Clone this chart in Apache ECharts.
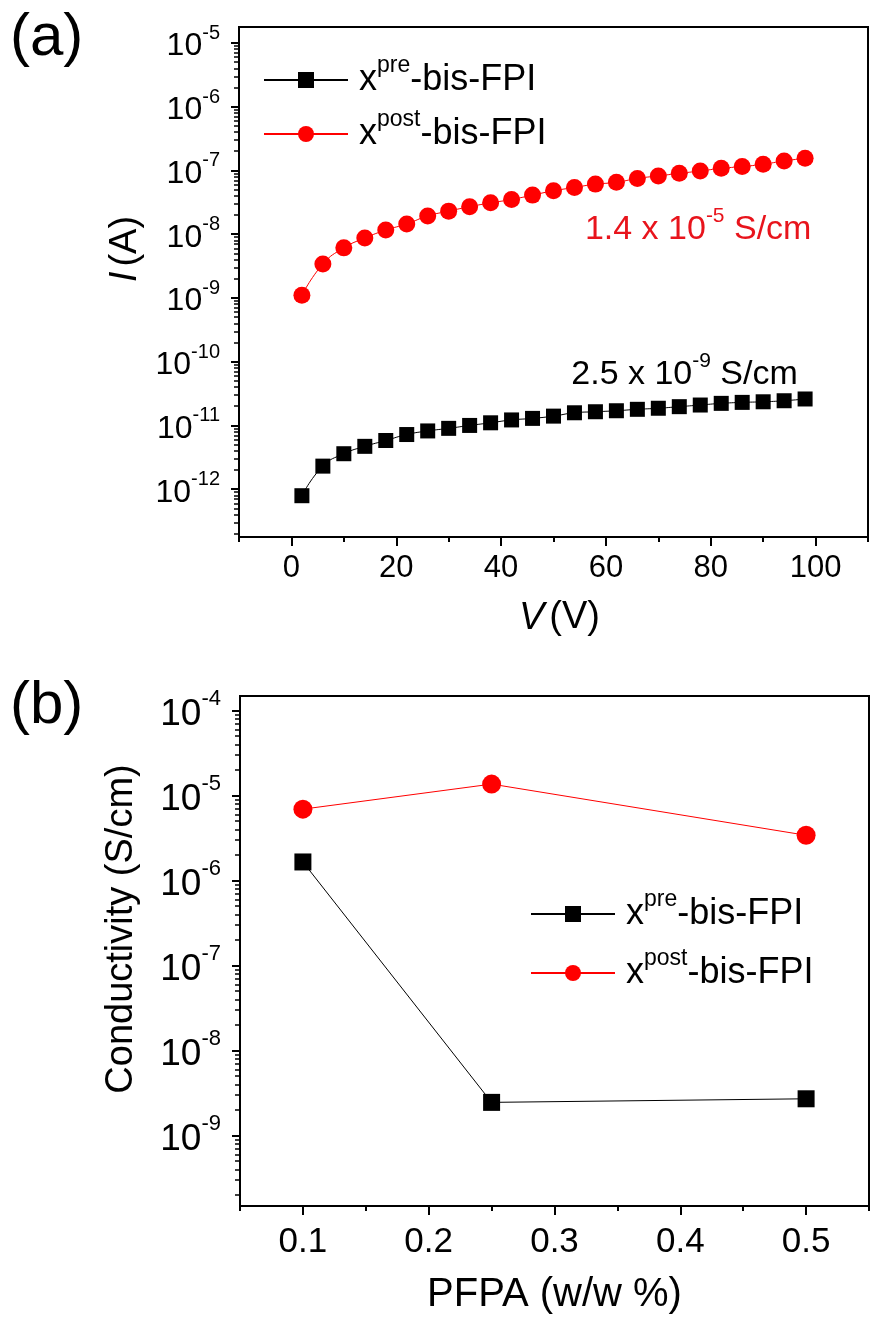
<!DOCTYPE html>
<html><head><meta charset="utf-8">
<script src="https://cdn.jsdelivr.net/npm/echarts@6/dist/echarts.min.js"></script>
<style>html,body{margin:0;padding:0;background:#fff}#c{width:871px;height:1319px}</style>
</head><body><div id="c"></div>
<script>
// ---------- data ----------
const seriesNames = ['xpre-bis-FPI', 'xpost-bis-FPI'];
const voltage = [2,6,10,14,18,22,26,30,34,38,42,46,50,54,58,62,66,70,74,78,82,86,90,94,98];
const currentPre = [7.9e-13,2.3e-12,3.6e-12,4.7e-12,5.8e-12,7.2e-12,8.2e-12,9.0e-12,1.0e-11,1.1e-11,1.22e-11,1.29e-11,1.4e-11,1.58e-11,1.64e-11,1.7e-11,1.79e-11,1.86e-11,1.97e-11,2.09e-11,2.22e-11,2.3e-11,2.35e-11,2.44e-11,2.6e-11];
const currentPost = [1.1e-9,3.4e-9,6.1e-9,8.7e-9,1.16e-8,1.45e-8,1.93e-8,2.3e-8,2.7e-8,3.1e-8,3.5e-8,4.1e-8,4.8e-8,5.4e-8,6.1e-8,6.5e-8,7.5e-8,8.2e-8,9.0e-8,9.8e-8,1.08e-7,1.15e-7,1.25e-7,1.41e-7,1.55e-7];
const pfpa = [0.1, 0.25, 0.5];
const condPre = [1.65e-6, 2.45e-9, 2.7e-9];
const condPost = [6.9e-6, 1.36e-5, 3.4e-6];
const voltTickLabels = [0, 20, 40, 60, 80, 100];
const pfpaTickLabels = [0.1, 0.2, 0.3, 0.4, 0.5];
const decadesA = [-12, -11, -10, -9, -8, -7, -6, -5];
const decadesB = [-9, -8, -7, -6, -5, -4];
const noteTexts = ['1.4 x 10|-5| S/cm', '2.5 x 10|-9| S/cm'];
const notePositions = [[77.6, 1.35e-8], [75, 7.1e-11]];

// ---------- layout/style ----------
const FONT = '"Liberation Sans", Arial, sans-serif';
const RED = '#ff0000';
const logA = [-12.75, -4.75];
const logB = [-9.83, -3.83];
const gridA = {left: 239, top: 27, width: 629, height: 510};
const gridB = {left: 240, top: 696, width: 629, height: 510};

function minorLogs(ext) {
  const out = [];
  for (let n = Math.floor(ext[0]); n <= Math.ceil(ext[1]); n++) {
    for (let k = 2; k <= 9; k++) {
      const v = n + Math.log10(k);
      if (v >= ext[0] && v <= ext[1]) out.push(v);
    }
  }
  return out;
}
function supRich(big, small, pad) {
  return {
    b: {fontSize: big, fontFamily: FONT, color: '#000', padding: [pad, 0, 0, 0]},
    s: {fontSize: small, fontFamily: FONT, color: '#000', verticalAlign: 'top'}
  };
}
function logAxis(gridIndex, ext, decades, big, small, pad, margin, name, nameRich, nameGap, nameSize, namePad) {
  return {
    type: 'log', gridIndex, position: 'left',
    min: Math.pow(10, ext[0]), max: Math.pow(10, ext[1]),
    axisLine: {show: true, onZero: false, lineStyle: {color: '#000', width: 2}},
    axisTick: {show: false}, splitLine: {show: false}, minorTick: {show: false},
    axisLabel: {
      margin,
      formatter: function (v) {
        const l = Math.log10(v), e = Math.round(l);
        if (Math.abs(l - e) > 1e-6 || decades.indexOf(e) < 0) return '';
        return '{b|10}{s|' + e + '}';
      },
      rich: supRich(big, small, pad)
    },
    name, nameLocation: 'middle', nameGap,
    nameTextStyle: {fontSize: nameSize, fontFamily: FONT, color: '#000', rich: nameRich, padding: namePad}
  };
}
function tickY(gridIndex, ext, values, len, width) {
  return {
    type: 'value', gridIndex, position: 'left', min: ext[0], max: ext[1],
    axisLine: {show: false, onZero: false}, splitLine: {show: false},
    axisLabel: {show: false},
    axisTick: {show: true, customValues: values, length: len, lineStyle: {color: '#000', width}}
  };
}
function tickX(gridIndex, min, max, values, len) {
  return {
    type: 'value', gridIndex, position: 'bottom', min, max,
    axisLine: {show: false, onZero: false}, splitLine: {show: false},
    axisLabel: {show: false},
    axisTick: {show: true, customValues: values, length: len, lineStyle: {color: '#000', width: 2}}
  };
}
function legendFmt(name) {
  const sup = name === seriesNames[0] ? 'pre' : 'post';
  return '{x|x}{s|' + sup + '}{b|-bis-FPI}';
}
const legendRich = {
  x: {fontSize: 36, fontFamily: FONT, color: '#000', padding: [8, 0, 8, 6]},
  b: {fontSize: 36, fontFamily: FONT, color: '#000', padding: [8, 0, 8, 0]},
  s: {fontSize: 23, fontFamily: FONT, color: '#000', verticalAlign: 'top'}
};
function note(idx, color) {
  const parts = noteTexts[idx].split('|');
  return {
    symbol: 'rect', symbolSize: 1, silent: true,
    itemStyle: {color: 'rgba(0,0,0,0)'},
    data: [{coord: notePositions[idx]}],
    label: {
      show: true, position: 'inside',
      formatter: '{n|' + parts[0] + '}{s|' + parts[1] + '}{n|' + parts[2] + '}',
      rich: {
        n: {fontSize: 34, fontFamily: FONT, color, padding: [7, 0, 0, 0]},
        s: {fontSize: 21, fontFamily: FONT, color, verticalAlign: 'top'}
      }
    }
  };
}

const option = {
  animation: false,
  backgroundColor: '#fff',
  grid: [
    Object.assign({show: true, borderColor: '#000', borderWidth: 2, containLabel: false, outerBoundsMode: 'none'}, gridA),
    Object.assign({show: true, borderColor: '#000', borderWidth: 2, containLabel: false, outerBoundsMode: 'none'}, gridB)
  ],
  graphic: [
    {type: 'text', left: 10, top: 8, style: {text: '(a)', fontSize: 60, fontFamily: FONT, fill: '#000'}},
    {type: 'text', left: 10, top: 676, style: {text: '(b)', fontSize: 60, fontFamily: FONT, fill: '#000'}}
  ],
  legend: [
    {data: seriesNames, left: 263, top: 54, padding: 0, orient: 'vertical', itemWidth: 84, itemHeight: 20, itemGap: 10,
     formatter: legendFmt, textStyle: {rich: legendRich}, selectedMode: false},
    {data: seriesNames, left: 530, top: 888, padding: 0, orient: 'vertical', itemWidth: 84, itemHeight: 20, itemGap: 15,
     formatter: legendFmt, textStyle: {rich: legendRich}, selectedMode: false}
  ],
  xAxis: [
    {type: 'value', gridIndex: 0, min: -10, max: 110, interval: 10,
     axisLine: {show: true, onZero: false, lineStyle: {color: '#000', width: 2}},
     axisTick: {show: true, length: 5, lineStyle: {color: '#000', width: 2}},
     splitLine: {show: false},
     axisLabel: {margin: 16, fontSize: 31, fontFamily: FONT, color: '#000',
       formatter: v => voltTickLabels.indexOf(Math.round(v)) >= 0 && Math.abs(v - Math.round(v)) < 1e-9 ? String(Math.round(v)) : ''},
     name: '{i|V}{n|(V)}', nameLocation: 'middle', nameGap: 62,
     nameTextStyle: {padding: [0, 0, 0, 12], rich: {i: {fontSize: 38, fontStyle: 'italic', fontFamily: FONT, color: '#000'},
                            n: {fontSize: 38, fontFamily: FONT, color: '#000', padding: [0, 0, 0, 5]}}}},
    tickX(0, -10, 110, voltTickLabels, 9),
    {type: 'value', gridIndex: 1, min: 0.05, max: 0.55, interval: 0.05,
     axisLine: {show: true, onZero: false, lineStyle: {color: '#000', width: 2}},
     axisTick: {show: true, length: 5, lineStyle: {color: '#000', width: 2}},
     splitLine: {show: false},
     axisLabel: {margin: 19, fontSize: 35, fontFamily: FONT, color: '#000',
       formatter: v => {
         const m = pfpaTickLabels.find(t => Math.abs(t - v) < 1e-9);
         return m === undefined ? '' : String(m);
       }},
     name: 'PFPA (w/w %)', nameLocation: 'middle', nameGap: 69,
     nameTextStyle: {fontSize: 40, fontFamily: FONT, color: '#000'}},
    tickX(1, 0.05, 0.55, pfpaTickLabels, 9)
  ],
  yAxis: [
    logAxis(0, logA, decadesA, 32, 20, 7, 19, '{i|I}{n|(A)}',
      {i: {fontSize: 38, fontStyle: 'italic', fontFamily: FONT, color: '#000'},
       n: {fontSize: 38, fontFamily: FONT, color: '#000', padding: [0, 0, 0, 5]}}, 68, 38, [0, 0, 0, 66]),
    tickY(0, logA, decadesA, 8, 2),
    tickY(0, logA, minorLogs(logA), 5, 1.5),
    logAxis(1, logB, decadesB, 37, 22, 8, 19, 'Conductivity (S/cm)', null, 99, 38, [0, 0, 0, 44]),
    tickY(1, logB, decadesB, 8, 2),
    tickY(1, logB, minorLogs(logB), 5, 1.5)
  ],
  series: [
    {name: seriesNames[0], type: 'line', xAxisIndex: 0, yAxisIndex: 0,
     data: voltage.map((v, i) => [v, currentPre[i]]),
     symbol: 'rect', symbolSize: 15, smooth: true,
     lineStyle: {color: '#000', width: 1}, itemStyle: {color: '#000'},
     markPoint: note(1, '#000')},
    {name: seriesNames[1], type: 'line', xAxisIndex: 0, yAxisIndex: 0,
     data: voltage.map((v, i) => [v, currentPost[i]]),
     symbol: 'circle', symbolSize: 17, smooth: true,
     lineStyle: {color: RED, width: 1}, itemStyle: {color: RED},
     markPoint: note(0, '#e8141c')},
    {name: seriesNames[0], type: 'line', xAxisIndex: 2, yAxisIndex: 3,
     data: pfpa.map((v, i) => [v, condPre[i]]),
     symbol: 'rect', symbolSize: 17,
     lineStyle: {color: '#000', width: 1}, itemStyle: {color: '#000'}},
    {name: seriesNames[1], type: 'line', xAxisIndex: 2, yAxisIndex: 3,
     data: pfpa.map((v, i) => [v, condPost[i]]),
     symbol: 'circle', symbolSize: 19,
     lineStyle: {color: RED, width: 1}, itemStyle: {color: RED}}
  ]
};
const chart = echarts.init(document.getElementById('c'), null, {renderer: 'canvas'});
chart.setOption(option);
</script>
</body></html>
